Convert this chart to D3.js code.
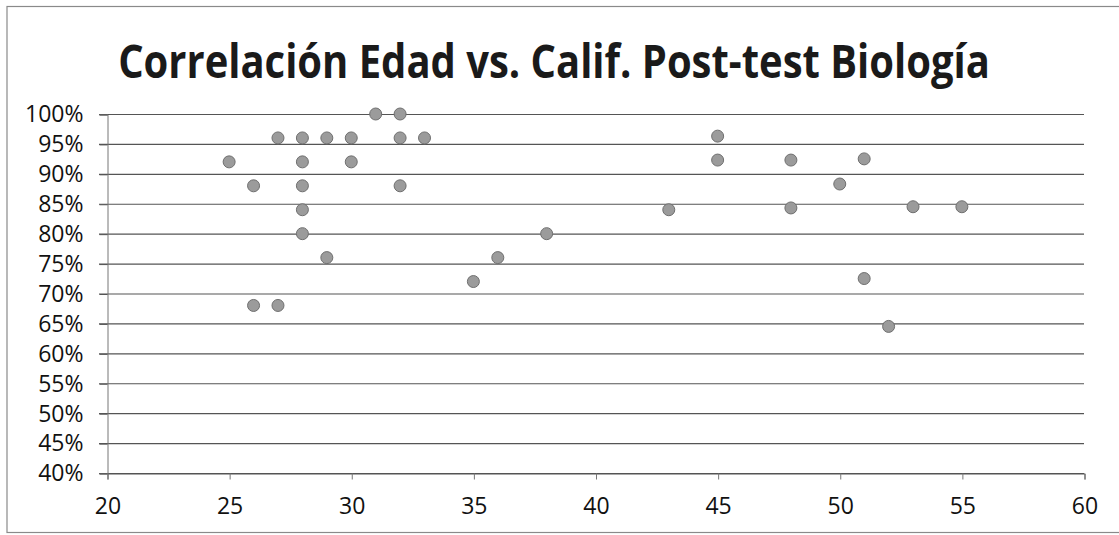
<!DOCTYPE html>
<html>
<head>
<meta charset="utf-8">
<script src="https://cdn.jsdelivr.net/npm/d3@7"></script>
<style>
  body { margin: 0; background: #fff; }
  text { font-family: "Open Sans", sans-serif; fill: #111; }
</style>
</head>
<body>
<script>
// edad (x) y calificación post-test (y, %)
var edades = [25, 26, 26, 27, 27, 28, 28, 28, 28, 28, 29, 29, 30, 30, 31, 32, 32, 32, 33,
              35, 36, 38, 43, 45, 45, 48, 48, 50, 51, 51, 52, 53, 55];
var califs = [92, 88, 68, 96, 68, 96, 92, 88, 84, 80, 96, 76, 96, 92, 100, 100, 96, 88, 96,
              72, 76, 80, 84, 96.3, 92.3, 92.3, 84.3, 88.3, 92.5, 72.5, 64.5, 84.5, 84.5];
var xTicks = [20, 25, 30, 35, 40, 45, 50, 55, 60];
var yTicks = [40, 45, 50, 55, 60, 65, 70, 75, 80, 85, 90, 95, 100];
var titulo = "Correlación Edad vs. Calif. Post-test Biología";

var width = 1119, height = 535;
var margin = { top: 114, right: 35, bottom: 62, left: 107 };

var svg = d3.select("body").append("svg")
    .attr("width", width)
    .attr("height", height);

// marco del gráfico
svg.append("rect")
    .attr("x", 7).attr("y", 6.5)
    .attr("width", width + 10).attr("height", 526)
    .attr("fill", "none")
    .attr("stroke", "#8a8a8a")
    .attr("stroke-width", 1.2);

var x = d3.scaleLinear().domain([20, 60]).range([margin.left, 1084]);
var y = d3.scaleLinear().domain([40, 100]).range([473, margin.top]);

// lineas de cuadricula
svg.append("g")
    .attr("class", "grid")
    .selectAll("line")
    .data(yTicks)
    .enter().append("line")
    .attr("x1", x(20) - 8)
    .attr("x2", x(60))
    .attr("y1", function (d) { return y(d) + 0.5; })
    .attr("y2", function (d) { return y(d) + 0.5; })
    .attr("stroke", "#555")
    .attr("stroke-width", 1.1);

// eje Y
var yAxis = svg.append("g")
    .attr("transform", "translate(" + (x(20) + 0.5) + ",0.5)")
    .call(d3.axisLeft(y).tickValues(yTicks).tickSize(8).tickPadding(16)
        .tickFormat(function (d) { return d + "%"; }));
yAxis.select(".domain").attr("stroke", "#777");
yAxis.selectAll(".tick line").attr("stroke", "#555");
yAxis.selectAll("text")
    .attr("font-size", "23px")
    .attr("font-family", "'Open Sans', sans-serif")
    .attr("fill", "#111");

// eje X
var xAxis = svg.append("g")
    .attr("transform", "translate(0.5," + (y(40) + 0.5) + ")")
    .call(d3.axisBottom(x).tickValues(xTicks).tickSize(6).tickPadding(18));
xAxis.select(".domain").attr("stroke", "#555");
xAxis.selectAll(".tick line").attr("stroke", "#777");
xAxis.selectAll("text")
    .attr("font-size", "23px")
    .attr("font-family", "'Open Sans', sans-serif")
    .attr("fill", "#111");

// titulo: se ajusta el tamaño al ancho del original y se estira en vertical
var titleWidth = 872, titleSize = 46;
var title = svg.append("text")
    .attr("x", 0)
    .attr("y", 0)
    .attr("text-anchor", "middle")
    .attr("font-size", titleSize + "px")
    .attr("font-weight", "bold")
    .style("fill", "#1a1a1a")
    .text(titulo);
var natural = title.node().getComputedTextLength();
var fit = titleSize * titleWidth / natural;
title.attr("font-size", fit + "px")
    .attr("transform", "translate(554,78) scale(1," + (titleSize / fit) + ")");

// puntos
var puntos = edades.map(function (e, i) { return { edad: e, calif: califs[i] }; });
svg.append("g")
    .selectAll("circle")
    .data(puntos)
    .enter().append("circle")
    .attr("cx", function (d) { return x(d.edad); })
    .attr("cy", function (d) { return y(d.calif); })
    .attr("r", 6)
    .attr("fill", "#9b9b9b")
    .attr("stroke", "#6f6f6f")
    .attr("stroke-width", 1);
</script>
</body>
</html>
